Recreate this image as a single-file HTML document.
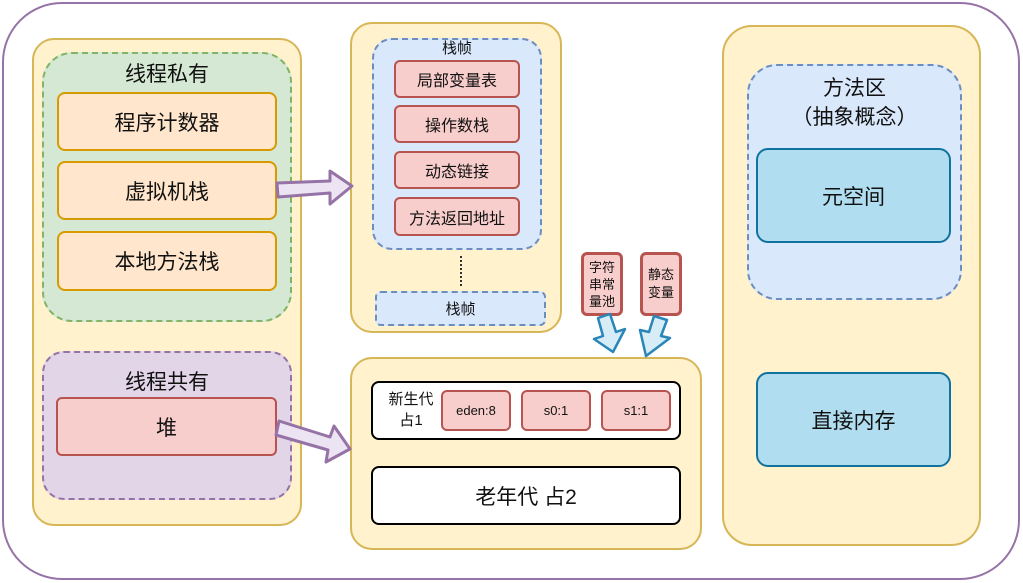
<!DOCTYPE html>
<html><head><meta charset="utf-8"><style>
body{margin:0;width:1023px;height:583px;background:#fff;position:relative;overflow:hidden;font-family:"Liberation Sans","Noto Sans CJK SC",sans-serif;color:#111}
.b{position:absolute;box-sizing:border-box;display:flex;align-items:center;justify-content:center;text-align:center}
.y{background:#fff2cc;border:2px solid #d6b656;border-radius:22px}
.o{background:#ffe6cc;border:2px solid #d79b00;border-radius:8px;font-size:21px}
.r{background:#f8cecc;border:2px solid #b85450;border-radius:6px}
.bl{background:#dae8fc;border:2px dashed #6c8ebf;border-radius:20px}
.c{background:#b1ddf0;border:2px solid #10739e;border-radius:12px;font-size:21px}
.w{background:#fff;border:2px solid #000;border-radius:8px}
.t{position:absolute;text-align:center}
</style></head><body>
<div class="b" style="left:2px;top:2px;width:1018px;height:578px;border:2px solid #9673a6;border-radius:60px"></div>

<div class="b y" style="left:32px;top:38px;width:270px;height:488px"></div>
<div class="b" style="left:42px;top:52px;width:250px;height:270px;background:#d5e8d4;border:2px dashed #82b366;border-radius:30px"></div>
<div class="t" style="left:42px;top:58px;width:250px;font-size:21px">线程私有</div>
<div class="b o" style="left:57px;top:92px;width:220px;height:59px">程序计数器</div>
<div class="b o" style="left:57px;top:161px;width:220px;height:59px">虚拟机栈</div>
<div class="b o" style="left:57px;top:231px;width:220px;height:60px">本地方法栈</div>
<div class="b" style="left:42px;top:351px;width:250px;height:149px;background:#e1d5e7;border:2px dashed #9673a6;border-radius:22px"></div>
<div class="t" style="left:42px;top:366px;width:250px;font-size:21px">线程共有</div>
<div class="b r" style="left:56px;top:397px;width:221px;height:59px;font-size:21px">堆</div>

<div class="b y" style="left:350px;top:22px;width:212px;height:311px"></div>
<div class="b bl" style="left:372px;top:38px;width:170px;height:212px"></div>
<div class="t" style="left:372px;top:37px;width:170px;font-size:15px">栈帧</div>
<div class="b r" style="left:394px;top:60px;width:126px;height:38px;font-size:16px">局部变量表</div>
<div class="b r" style="left:394px;top:105px;width:126px;height:38px;font-size:16px">操作数栈</div>
<div class="b r" style="left:394px;top:151px;width:126px;height:38px;font-size:16px">动态链接</div>
<div class="b r" style="left:394px;top:197px;width:126px;height:39px;font-size:16px">方法返回地址</div>
<div style="position:absolute;left:460px;top:256px;height:30px;border-left:2px dotted #333"></div>
<div class="b" style="left:375px;top:291px;width:171px;height:35px;background:#dae8fc;border:2px dashed #6c8ebf;border-radius:6px;font-size:15px">栈帧</div>

<div class="b y" style="left:350px;top:357px;width:352px;height:193px"></div>
<div class="b w" style="left:371px;top:381px;width:310px;height:59px"></div>
<div class="t" style="left:378px;top:389px;width:66px;font-size:15px;line-height:21px">新生代<br>占1</div>
<div class="b r" style="left:441px;top:390px;width:70px;height:41px;font-size:13px">eden:8</div>
<div class="b r" style="left:521px;top:390px;width:70px;height:41px;font-size:13px">s0:1</div>
<div class="b r" style="left:601px;top:390px;width:70px;height:41px;font-size:13px">s1:1</div>
<div class="b w" style="left:371px;top:466px;width:310px;height:59px;font-size:21px">老年代 占2</div>

<div class="b r" style="left:581px;top:252px;width:42px;height:64px;font-size:13px;line-height:17px;border-width:3px">字符<br>串常<br>量池</div>
<div class="b r" style="left:640px;top:252px;width:42px;height:64px;font-size:13px;line-height:18px;border-width:3px">静态<br>变量</div>

<div class="b y" style="left:722px;top:25px;width:259px;height:521px;border-radius:30px"></div>
<div class="b bl" style="left:747px;top:64px;width:215px;height:236px;border-radius:30px"></div>
<div class="t" style="left:747px;top:74px;width:215px;font-size:21px;line-height:29px">方法区<br>（抽象概念）</div>
<div class="b c" style="left:756px;top:148px;width:195px;height:95px">元空间</div>
<div class="b c" style="left:756px;top:372px;width:195px;height:95px">直接内存</div>

<svg width="1023" height="583" style="position:absolute;left:0;top:0">
<g fill="#ece4f2" stroke="#9673a6" stroke-width="3" stroke-linejoin="round">
<polygon points="277,183 330,181 330,171 352,186 330,204 330,193 278,197"/>
<polygon points="279,421 330,437 334,426 350,449 326,462 328,450 276,435"/>
</g>
<g fill="#d6ecf6" stroke="#2a86b8" stroke-width="2.5" stroke-linejoin="round">
<polygon points="598,318 610,314 616,332 625,329 613,352 594,339 603,336"/>
<polygon points="654,316 667,320 661,336 670,338 646,356 640,330 649,332"/>
</g>
</svg>
</body></html>
